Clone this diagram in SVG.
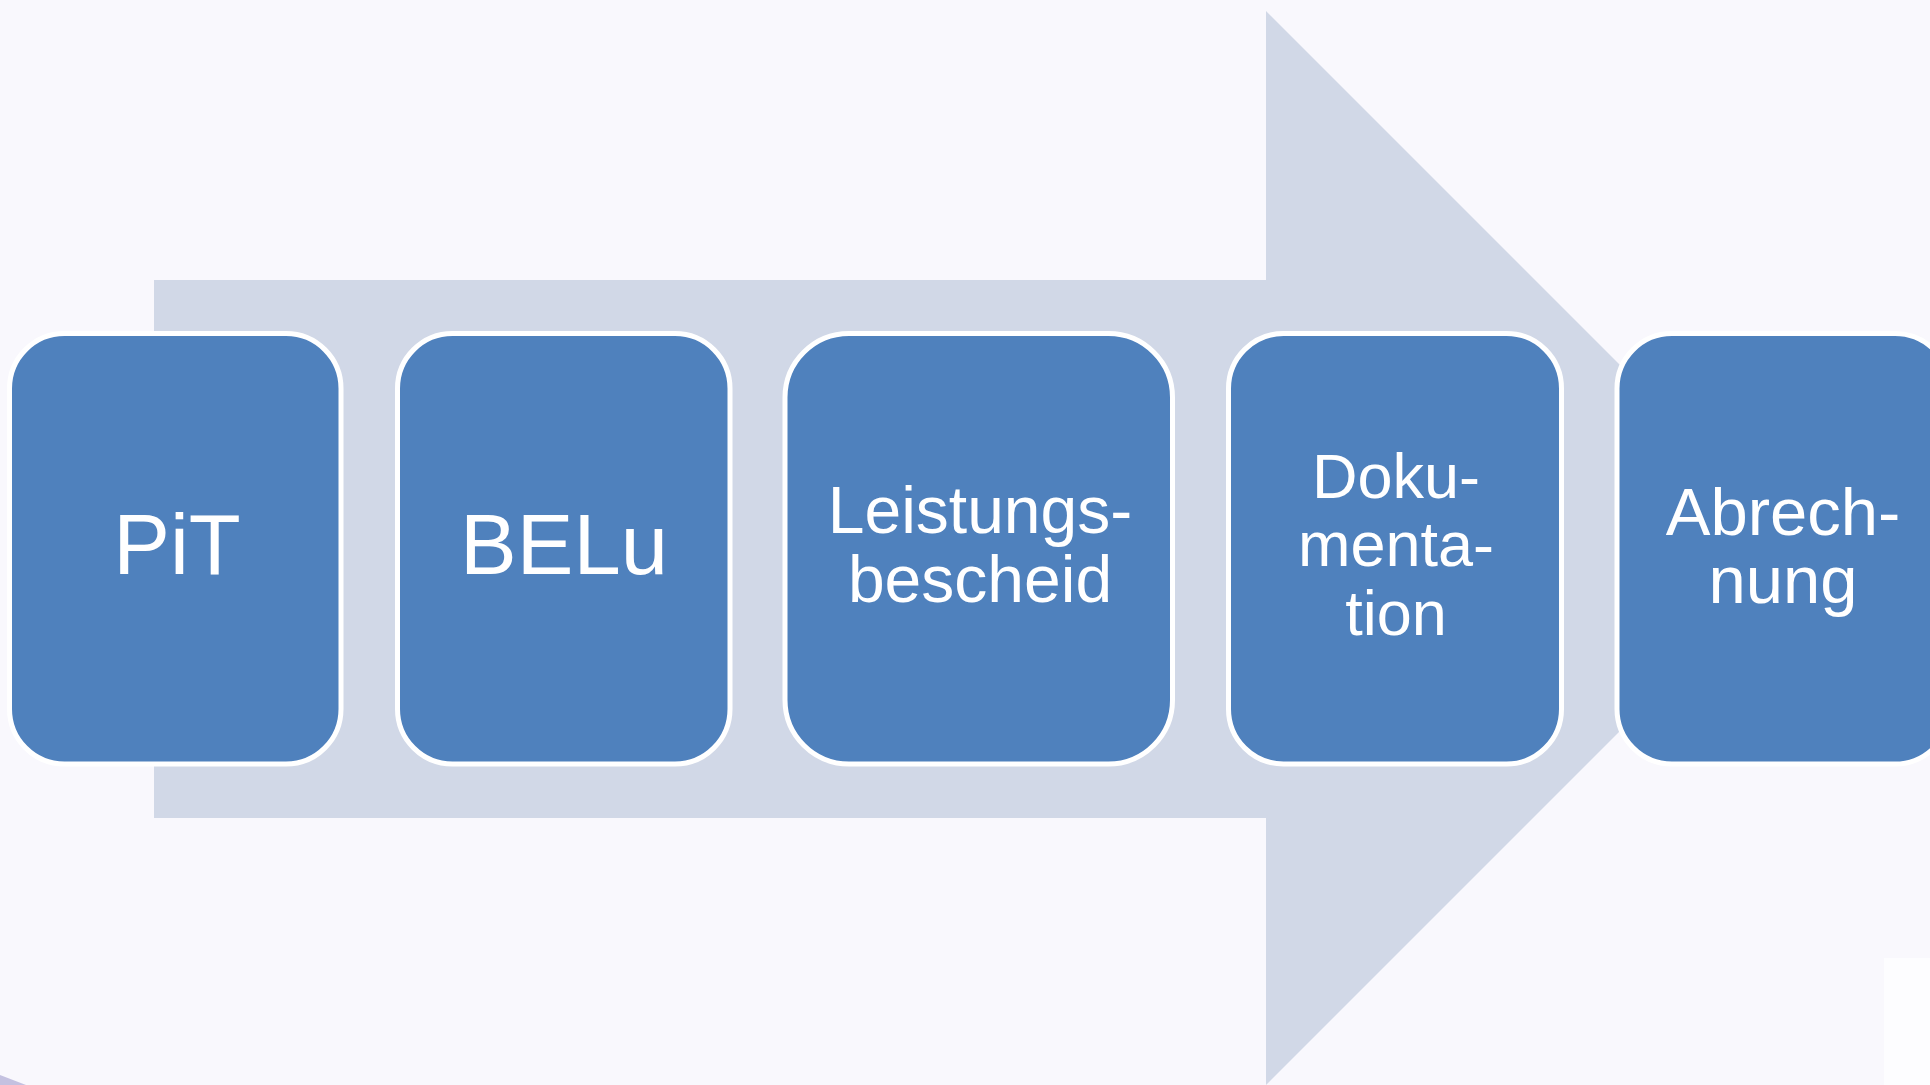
<svg xmlns="http://www.w3.org/2000/svg" width="1930" height="1085" viewBox="0 0 1930 1085">
<style>
.box{fill:#4f81bd;stroke:#ffffff;stroke-width:5}
.lbl{font-family:"Liberation Sans",Arial,sans-serif;fill:#ffffff;text-anchor:middle}
</style>
<rect x="0" y="0" width="1930" height="1085" fill="#f9f8fd"/>
<rect x="1884" y="958" width="46" height="127" fill="#fdfdff"/>
<polygon points="0,1075 26,1085 0,1085" fill="#c4c1e0"/>
<g id="connectors">
<polygon id="big-arrow" points="154,280 1266,280 1266,11 1803,548 1266,1085 1266,818 154,818" fill="#d1d8e7"/>
</g>
<g id="node-pit">
<rect class="box" x="9.5" y="333.5" width="331.5" height="430.5" rx="55" ry="55"/>
<text class="lbl" x="177" y="574" font-size="85">PiT</text>
</g>
<g id="node-belu">
<rect class="box" x="397.5" y="333.5" width="332.5" height="430.5" rx="55" ry="55"/>
<text class="lbl" x="564" y="574" font-size="85">BELu</text>
</g>
<g id="node-leistungsbescheid">
<rect class="box" x="785" y="333.5" width="387.5" height="430.5" rx="64" ry="64"/>
<text class="lbl" x="980" y="533" font-size="66">Leistungs-</text>
<text class="lbl" x="980" y="602" font-size="66">bescheid</text>
</g>
<g id="node-dokumentation">
<rect class="box" x="1228.5" y="333.5" width="333" height="430.5" rx="55" ry="55"/>
<text class="lbl" x="1396" y="498" font-size="63">Doku-</text>
<text class="lbl" x="1396" y="566" font-size="63">menta-</text>
<text class="lbl" x="1396" y="635" font-size="63">tion</text>
</g>
<g id="node-abrechnung">
<rect class="box" x="1617" y="333.5" width="333" height="430.5" rx="55" ry="55"/>
<text class="lbl" x="1783" y="535" font-size="67">Abrech-</text>
<text class="lbl" x="1783" y="603" font-size="67">nung</text>
</g>
</svg>
